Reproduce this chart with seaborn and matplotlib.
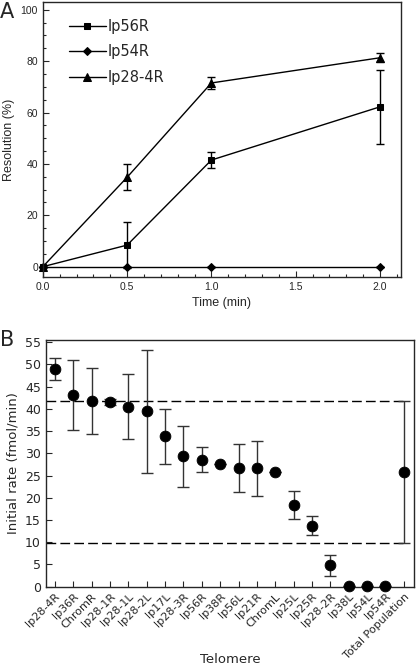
import matplotlib
matplotlib.use("Agg")
import matplotlib.pyplot as plt
import numpy as np
import pandas as pd
import seaborn as sns
from matplotlib.ticker import MultipleLocator

# Panel A: resolution over time
times = [0.0, 0.5, 1.0, 2.0]
lp56r = [0.0, 8.4, 41.5, 62.2]
lp56r_err = [0.0, 9.0, 3.0, 14.5]
lp54r = [0.0, 0.0, 0.0, 0.0]
lp54r_err = [0.0, 0.0, 0.0, 0.0]
lp28_4r = [0.0, 34.8, 71.5, 81.3]
lp28_4r_err = [0.0, 5.0, 2.5, 1.7]

# Panel B: initial rate per telomere
telomeres = ["lp28-4R", "lp36R", "ChromR", "lp28-1R", "lp28-1L", "lp28-2L",
             "lp17L", "lp28-3R", "lp56R", "lp38R", "lp56L", "lp21R", "ChromL",
             "lp25L", "lp25R", "lp28-2R", "lp38L", "lp54L", "lp54R",
             "Total Population"]
rates = [49.0, 43.1, 41.8, 41.5, 40.5, 39.4, 33.8, 29.3, 28.5, 27.5, 26.7,
         26.6, 25.8, 18.4, 13.7, 4.8, 0.2, 0.2, 0.2, 25.8]
rate_err = [2.5, 7.8, 7.4, 0.7, 7.4, 13.8, 6.1, 6.8, 2.8, 0.0, 5.4, 6.1, 0.0,
            3.1, 2.1, 2.3, 0.0, 0.0, 0.0, 16.0]
band = [9.8, 41.7]

sns.set_style("ticks")
plt.rcParams["font.family"] = ["DejaVu Sans"]

fig = plt.figure(figsize=(4.16, 6.69), dpi=100)
ax1 = fig.add_axes([0.103, 0.586, 0.861, 0.411])
ax2 = fig.add_axes([0.110, 0.123, 0.885, 0.369])

# ---- Panel A ----
series = [("lp56R", lp56r, lp56r_err, "s", 4.5),
          ("lp54R", lp54r, lp54r_err, "D", 4.5),
          ("lp28-4R", lp28_4r, lp28_4r_err, "^", 5.5)]
rows = []
for name, vals, errs, _, _ in series:
    for t, v, e in zip(times, vals, errs):
        rows.append({"time": t, "value": v, "err": e, "series": name})
df_a = pd.DataFrame(rows)

for name, vals, errs, mk, ms in series:
    sub = df_a[df_a["series"] == name]
    sns.lineplot(data=sub, x="time", y="value", ax=ax1, color="black",
                 marker=mk, markersize=ms, markeredgecolor="black",
                 linewidth=1.0, label=name, clip_on=False)
    ax1.errorbar(sub["time"], sub["value"], yerr=sub["err"], fmt="none",
                 ecolor="black", elinewidth=1.0, capsize=3, capthick=1.0,
                 clip_on=False)

ax1.set_xlim(0, 2.125)
ax1.set_ylim(-4, 103)
ax1.xaxis.set_major_locator(MultipleLocator(0.5))
ax1.xaxis.set_minor_locator(MultipleLocator(0.1))
ax1.yaxis.set_major_locator(MultipleLocator(20))
ax1.yaxis.set_minor_locator(MultipleLocator(5))
ax1.xaxis.set_major_formatter(matplotlib.ticker.FormatStrFormatter("%.1f"))
ax1.tick_params(direction="in", labelsize=7.5, length=4, width=0.8)
ax1.tick_params(which="minor", direction="in", length=2.5, width=0.8)
ax1.set_xlabel("Time (min)", fontsize=9, family="Liberation Sans")
ax1.set_ylabel("Resolution (%)", fontsize=9, family="Liberation Sans")
for lab in ax1.get_xticklabels() + ax1.get_yticklabels():
    lab.set_family("Liberation Sans")
for sp in ax1.spines.values():
    sp.set_linewidth(1.0)
leg = ax1.legend(loc="upper left", frameon=False, fontsize=10.5,
                 handlelength=2.6, handletextpad=0.1, labelspacing=0.7,
                 bbox_to_anchor=(0.035, 0.985))

# ---- Panel B ----
df_b = pd.DataFrame({"telomere": telomeres, "rate": rates, "err": rate_err})
for y in band:
    ax2.hlines(y, -0.5, 19, colors="black", linestyles=(0, (7, 3)),
               linewidth=1.0)
ax2.errorbar(np.arange(len(telomeres)), df_b["rate"], yerr=df_b["err"],
             fmt="none", ecolor="#333333", elinewidth=1.0, capsize=4,
             capthick=1.0)
sns.scatterplot(data=df_b, x="telomere", y="rate", ax=ax2, color="black",
                s=60, edgecolor="black", zorder=5, clip_on=False)

ax2.set_xlim(-0.5, 19.55)
ax2.set_ylim(0, 55.5)
ax2.yaxis.set_major_locator(MultipleLocator(5))
ax2.set_xticks(np.arange(len(telomeres)))
ax2.set_xticklabels(telomeres, rotation=45, ha="right",
                    rotation_mode="anchor", fontsize=8)
ax2.tick_params(direction="in", length=4, width=0.8, labelsize=9)
ax2.tick_params(axis="x", labelsize=8)
ax2.set_xlabel("Telomere", fontsize=9.5)
ax2.xaxis.set_label_coords(0.5, -0.27)
ax2.set_ylabel("Initial rate (fmol/min)", fontsize=9.5)
for sp in ax2.spines.values():
    sp.set_linewidth(1.0)

fig.text(0.0, 0.997, "A", fontsize=15, va="top", ha="left")
fig.text(0.0, 0.507, "B", fontsize=15, va="top", ha="left")

fig.savefig("out.png", dpi=100)
